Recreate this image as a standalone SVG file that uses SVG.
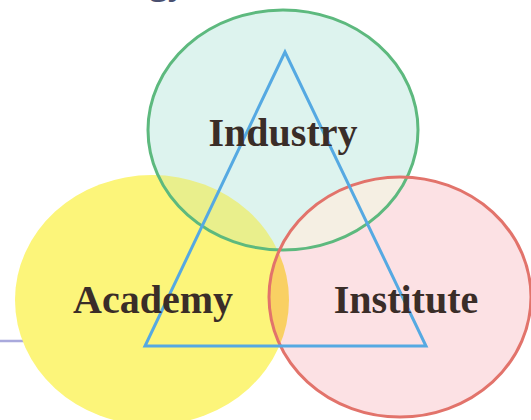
<svg xmlns="http://www.w3.org/2000/svg" width="531" height="420" viewBox="0 0 531 420">
  <style>
    .label { font-family: "Liberation Serif", "Times New Roman", serif; font-weight: bold; font-size: 40px; fill: #3a2d28; text-anchor: middle; }
    .edge { fill: none; stroke: #55a9e2; stroke-width: 3; stroke-linejoin: miter; }
  </style>
  <defs>
    <ellipse id="shapeAcademy" cx="152" cy="300" rx="137" ry="125"/>
    <ellipse id="shapeIndustry" cx="283" cy="130" rx="135" ry="120"/>
    <ellipse id="shapeInstitute" cx="400" cy="297" rx="131" ry="120"/>
    <clipPath id="clipAcademy"><use href="#shapeAcademy"/></clipPath>
    <clipPath id="clipInstitute"><use href="#shapeInstitute"/></clipPath>
  </defs>
  <rect width="531" height="420" fill="#ffffff"/>
  <!-- heading text running off the top edge -->
  <text x="168" y="-6" font-family="Liberation Serif, serif" font-weight="bold" font-size="38" fill="#4a5070" text-anchor="middle">gy</text>
  <!-- rule on the left, passing behind the circles -->
  <line x1="0" y1="341" x2="150" y2="341" stroke="#a9a9dc" stroke-width="2.5"/>

  <g id="academy">
    <use href="#shapeAcademy" fill="#fcf57a"/>
  </g>
  <g id="industry">
    <use href="#shapeIndustry" fill="#ddf3ee"/>
  </g>
  <g id="institute">
    <use href="#shapeInstitute" fill="#fce1e4"/>
  </g>

  <!-- tinted overlap areas -->
  <g id="overlaps">
    <use href="#shapeIndustry" fill="#e9ef8c" clip-path="url(#clipAcademy)"/>
    <use href="#shapeAcademy" fill="#f9d063" clip-path="url(#clipInstitute)"/>
    <use href="#shapeIndustry" fill="#f5efe3" clip-path="url(#clipInstitute)"/>
  </g>

  <!-- outlines -->
  <g id="outlines" fill="none" stroke-width="3">
    <use href="#shapeIndustry" stroke="#5db97e"/>
    <use href="#shapeInstitute" stroke="#e2736b"/>
  </g>

  <g id="connectors">
    <polygon class="edge" points="285,52 145,346 426,346"/>
  </g>

  <g id="labels">
    <text class="label" x="283" y="146">Industry</text>
    <text class="label" x="153" y="313">Academy</text>
    <text class="label" x="406" y="313">Institute</text>
  </g>
</svg>
